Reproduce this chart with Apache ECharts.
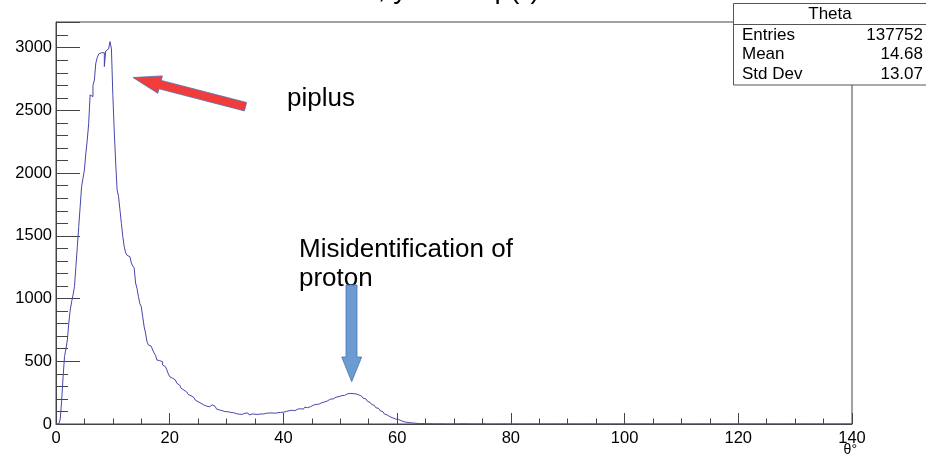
<!DOCTYPE html>
<html><head><meta charset="utf-8">
<script src="https://cdn.jsdelivr.net/npm/echarts@6/dist/echarts.min.js"></script>
<style>html,body{margin:0;padding:0;background:#fff;}#c{width:926px;height:455px;}</style>
</head><body><div id="c"></div>
<script>
// Histogram: 0.25 degree bins starting at 0 (bins beyond the list are empty)
const binStart = 0;
const binWidth = 0.25;
const xMin = 0, xMax = 140;
const counts = [
  0, 0, 0, 40, 190, 377, 537, 600, 670, 805,
  909, 975, 1030, 1095, 1255, 1414, 1574, 1733, 1893, 1960,
  2026, 2159, 2265, 2398, 2624, 2610, 2700, 2743, 2877, 2920,
  2950, 2960, 2945, 2960, 2850, 2975, 2990, 3000, 3049, 2990,
  2620, 2330, 2080, 1866, 1813, 1707, 1600, 1494, 1414, 1364,
  1345, 1334, 1320, 1284, 1260, 1244, 1124, 1080, 1015, 960,
  935, 855, 776, 725, 656, 630, 620, 606, 590, 566,
  548, 510, 505, 500, 497, 470, 457, 445, 431, 400,
  377, 365, 358, 351, 340, 325, 310, 298, 285, 270,
  258, 255, 245, 236, 225, 218, 212, 205, 190, 178,
  170, 165, 165, 152, 144, 142, 138, 138, 148, 152,
  152, 140, 125, 118, 112, 110, 106, 102, 99, 100,
  98, 94, 92, 88, 90, 85, 82, 86, 78, 80,
  77, 74, 86, 80, 88, 84, 72, 80, 86, 78,
  82, 76, 84, 80, 78, 80, 74, 86, 90, 88,
  84, 88, 82, 86, 84, 90, 86, 92, 90, 94,
  96, 100, 104, 106, 102, 110, 108, 106, 114, 118,
  112, 122, 126, 118, 128, 134, 130, 140, 138, 146,
  150, 148, 156, 160, 158, 166, 170, 168, 176, 178,
  184, 192, 198, 205, 200, 208, 214, 210, 218, 222,
  226, 232, 228, 236, 240, 234, 244, 248, 242, 246,
  240, 236, 232, 228, 222, 216, 206, 200, 190, 182,
  172, 166, 156, 148, 140, 130, 124, 114, 106, 98,
  88, 80, 72, 66, 58, 52, 48, 44, 40, 38,
  36, 30, 26, 22, 18, 16, 13, 11, 10, 9,
  8, 6, 6, 5, 4, 3, 3, 2, 3, 2,
  2, 1, 2, 1, 1, 2, 0, 1, 1, 0,
  1, 1, 0, 2, 0, 1, 0, 1, 0, 1,
  1, 0, 0, 1, 2, 0, 1, 0, 1, 0,
  0, 0, 1, 0, 0, 0, 0, 0, 0, 0,
  1, 2, 0, 0, 0, 0
];
const yMax = 3205;
const statsTitle = 'Theta';
const statsLabels = ['Entries', 'Mean', 'Std Dev'];
const statsValues = ['137752', '14.68', '13.07'];
const titleText = 'θ, yield vs p(°)';
const xName = 'θ°';

const FONT = 'Liberation Sans, Arial, sans-serif';
const nBins = Math.round((xMax - xMin) / binWidth);
const histData = [];
for (let i = 0; i < nBins; i++) {
  histData.push([binStart + i * binWidth, i < counts.length ? counts[i] : 0]);
}
histData.push([xMax, 0]);

const chart = echarts.init(document.getElementById('c'), null, {renderer: 'canvas'});
const axisColor = '#444';
const txt = (x, y, text, size, align, valign, z) => ({
  type: 'text', x: x, y: y, z: z || 11,
  style: {text: text, font: size + 'px ' + FONT, fill: '#000', align: align, verticalAlign: valign}
});
chart.setOption({
  animation: false,
  grid: {left: 56, right: 74, top: 22, bottom: 31, show: true, borderColor: axisColor, borderWidth: 1, backgroundColor: 'transparent'},
  xAxis: {
    type: 'value', min: xMin, max: xMax, interval: 20,
    axisLine: {show: true, onZero: false, lineStyle: {color: axisColor, width: 1}},
    axisTick: {show: true, inside: true, length: 11, lineStyle: {color: axisColor}},
    minorTick: {show: true, splitNumber: 4, length: 5.5, lineStyle: {color: axisColor}},
    splitLine: {show: false},
    axisLabel: {fontFamily: FONT, fontSize: 16.5, color: '#000', margin: 6}
  },
  yAxis: {
    type: 'value', min: 0, max: yMax, interval: 500,
    axisLine: {show: true, onZero: false, lineStyle: {color: axisColor, width: 1}},
    axisTick: {show: true, inside: true, length: 24, lineStyle: {color: axisColor}},
    minorTick: {show: true, splitNumber: 5, length: 12, lineStyle: {color: axisColor}},
    splitLine: {show: false},
    axisLabel: {fontFamily: FONT, fontSize: 16.5, color: '#000', margin: 4,
      formatter: v => (v % 500 === 0 ? String(v) : '')}
  },
  series: [{
    type: 'line', step: 'end', data: histData, showSymbol: false, symbol: 'none',
    lineStyle: {color: '#4646ab', width: 1}, clip: true, silent: true
  }],
  graphic: [
    txt(451, 4, titleText, 28, 'center', 'bottom', 5),
    {type: 'rect', shape: {x: 733.5, y: 3.5, width: 193, height: 81.5}, style: {fill: '#fff', stroke: '#555', lineWidth: 1}, z: 10},
    {type: 'line', shape: {x1: 733.5, y1: 24.5, x2: 926, y2: 24.5}, style: {stroke: '#555', lineWidth: 1}, z: 10},
    txt(830, 14.5, statsTitle, 17, 'center', 'middle'),
    ...statsLabels.map((t, i) => txt(742, 35 + i * 19.7, t, 17, 'left', 'middle')),
    ...statsValues.map((t, i) => txt(923, 35 + i * 19.7, t, 17, 'right', 'middle')),
    txt(857, 450, xName, 14, 'right', 'middle', 5),
    {type: 'polygon', shape: {points: [[133, 77.5], [162.4, 75.9], [161.2, 80.4], [246.6, 102.5], [244.4, 110.9], [159.0, 88.8], [157.8, 93.3]]},
      style: {fill: '#f23c3c', stroke: '#4a72b0', lineWidth: 0.8}, z: 12},
    txt(287, 86, 'piplus', 26, 'left', 'top', 12),
    txt(299, 237, 'Misidentification of', 26, 'left', 'top', 12),
    txt(299, 265.5, 'proton', 26, 'left', 'top', 12),
    {type: 'polygon', shape: {points: [[346, 285], [357, 285], [357, 357], [361.7, 357], [351.7, 381.7], [341.7, 357], [346, 357]]},
      style: {fill: '#6c9bd2', stroke: '#4a77b0', lineWidth: 0.8}, z: 13}
  ]
});
</script>
</body></html>
